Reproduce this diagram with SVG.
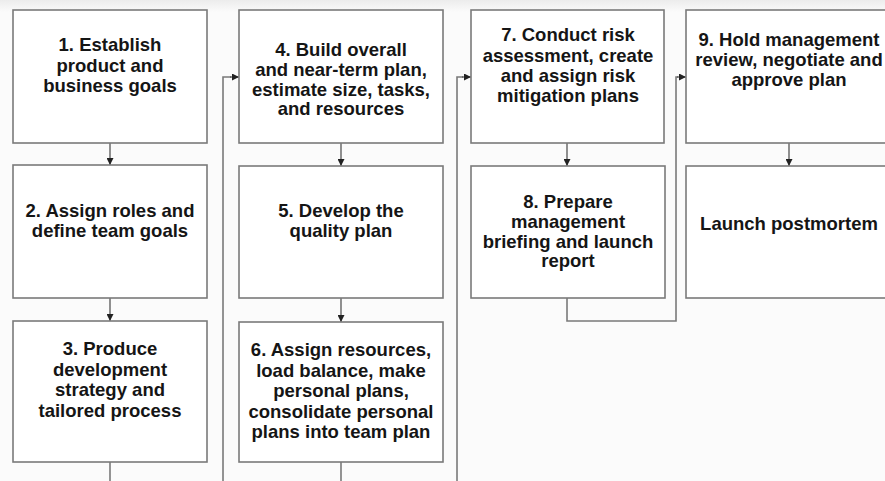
<svg xmlns="http://www.w3.org/2000/svg" width="885" height="481" viewBox="0 0 885 481">
  <defs>
    <marker id="arrow" viewBox="0 0 8 8" refX="8" refY="4" markerWidth="7" markerHeight="7" markerUnits="userSpaceOnUse" orient="auto">
      <path d="M0,0 L8,4 L0,8 Z" fill="#222"/>
    </marker>
    <linearGradient id="topfade" x1="0" y1="0" x2="0" y2="1">
      <stop offset="0" stop-color="#ececec"/>
      <stop offset="1" stop-color="#fbfbfb"/>
    </linearGradient>
  </defs>
  <style>
    .box { fill: #ffffff; stroke: #7a7a7a; stroke-width: 1.6; }
    .link { fill: none; stroke: #7a7a7a; stroke-width: 1.6; }
    .arr { fill: none; stroke: #555; stroke-width: 1.3; }
    .lbl { font-family: "Liberation Sans", Arial, sans-serif; font-weight: bold; font-size: 18.5px; fill: #151515; text-anchor: middle; }
  </style>

  <!-- page background -->
  <rect x="0" y="0" width="885" height="481" fill="#fbfbfb"/>
  <rect x="0" y="0" width="885" height="12" fill="url(#topfade)"/>

  <!-- connectors -->
  <g id="connectors">
    <!-- column 1 -->
    <line class="arr" x1="110" y1="143" x2="110" y2="165" marker-end="url(#arrow)"/>
    <line class="arr" x1="110" y1="298" x2="110" y2="321" marker-end="url(#arrow)"/>
    <line class="link" x1="110" y1="462" x2="110" y2="481"/>
    <!-- loop from bottom into step 4 -->
    <polyline class="link" points="223,481 223,77 231,77"/>
    <line class="arr" x1="230" y1="77" x2="239" y2="77" marker-end="url(#arrow)"/>
    <!-- column 2 -->
    <line class="arr" x1="341" y1="143" x2="341" y2="166" marker-end="url(#arrow)"/>
    <line class="arr" x1="341" y1="298" x2="341" y2="322" marker-end="url(#arrow)"/>
    <line class="link" x1="341" y1="462" x2="341" y2="481"/>
    <!-- loop from bottom into step 7 -->
    <polyline class="link" points="457,481 457,77 463,77"/>
    <line class="arr" x1="462" y1="77" x2="471" y2="77" marker-end="url(#arrow)"/>
    <!-- column 3 -->
    <line class="arr" x1="567" y1="143" x2="567" y2="166" marker-end="url(#arrow)"/>
    <polyline class="link" points="567,298 567,321 676,321 676,77 678,77"/>
    <line class="arr" x1="677" y1="77" x2="686" y2="77" marker-end="url(#arrow)"/>
    <!-- column 4 -->
    <line class="arr" x1="789" y1="143" x2="789" y2="166" marker-end="url(#arrow)"/>
  </g>

  <!-- step 1 -->
  <g id="step1">
    <rect class="box" x="13" y="10" width="194" height="133"/>
    <text class="lbl"><tspan x="110" y="51">1.  Establish</tspan><tspan x="110" y="72">product and</tspan><tspan x="110" y="92">business goals</tspan></text>
  </g>

  <!-- step 2 -->
  <g id="step2">
    <rect class="box" x="13" y="165" width="194" height="133"/>
    <text class="lbl"><tspan x="110" y="217">2.  Assign roles and</tspan><tspan x="110" y="237">define team goals</tspan></text>
  </g>

  <!-- step 3 -->
  <g id="step3">
    <rect class="box" x="13" y="321" width="194" height="141"/>
    <text class="lbl"><tspan x="110" y="355">3.  Produce</tspan><tspan x="110" y="376">development</tspan><tspan x="110" y="396">strategy and</tspan><tspan x="110" y="417">tailored process</tspan></text>
  </g>

  <!-- step 4 -->
  <g id="step4">
    <rect class="box" x="239" y="10" width="204" height="133"/>
    <text class="lbl"><tspan x="341" y="56">4.  Build overall</tspan><tspan x="341" y="76">and near-term plan,</tspan><tspan x="341" y="96">estimate size, tasks,</tspan><tspan x="341" y="115">and resources</tspan></text>
  </g>

  <!-- step 5 -->
  <g id="step5">
    <rect class="box" x="239" y="166" width="204" height="132"/>
    <text class="lbl"><tspan x="341" y="217">5.  Develop the</tspan><tspan x="341" y="237">quality plan</tspan></text>
  </g>

  <!-- step 6 -->
  <g id="step6">
    <rect class="box" x="239" y="322" width="204" height="140"/>
    <text class="lbl"><tspan x="341" y="356">6.  Assign resources,</tspan><tspan x="341" y="377">load balance, make</tspan><tspan x="341" y="397">personal plans,</tspan><tspan x="341" y="418">consolidate personal</tspan><tspan x="341" y="438">plans into team plan</tspan></text>
  </g>

  <!-- step 7 -->
  <g id="step7">
    <rect class="box" x="471" y="10" width="193" height="133"/>
    <text class="lbl"><tspan x="568" y="41">7.  Conduct risk</tspan><tspan x="568" y="62">assessment, create</tspan><tspan x="568" y="82">and assign risk</tspan><tspan x="568" y="102">mitigation plans</tspan></text>
  </g>

  <!-- step 8 -->
  <g id="step8">
    <rect class="box" x="471" y="166" width="194" height="132"/>
    <text class="lbl"><tspan x="568" y="208">8.  Prepare</tspan><tspan x="568" y="228">management</tspan><tspan x="568" y="248">briefing and launch</tspan><tspan x="568" y="267">report</tspan></text>
  </g>

  <!-- step 9 -->
  <g id="step9">
    <rect class="box" x="686" y="10" width="206" height="133"/>
    <text class="lbl"><tspan x="789" y="46">9.  Hold management</tspan><tspan x="789" y="66">review, negotiate and</tspan><tspan x="789" y="86">approve plan</tspan></text>
  </g>

  <!-- launch postmortem -->
  <g id="postmortem">
    <rect class="box" x="686" y="166" width="206" height="132"/>
    <text class="lbl"><tspan x="789" y="230">Launch postmortem</tspan></text>
  </g>
</svg>
